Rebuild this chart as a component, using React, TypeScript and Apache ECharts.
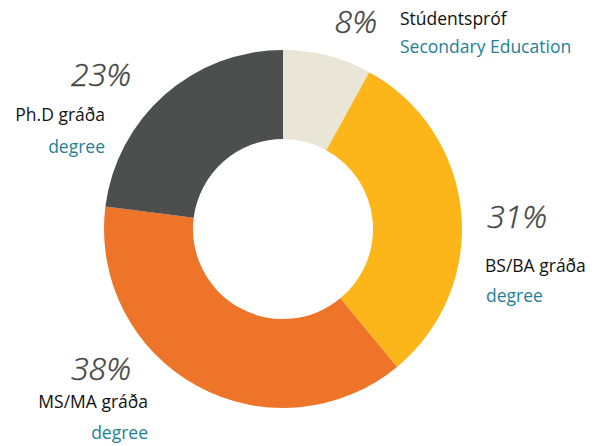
import React, { useEffect, useRef } from "react";
import * as echarts from "echarts";

const categories = ["Stúdentspróf", "BS/BA gráða", "MS/MA gráða", "Ph.D gráða"];
const subLabels = ["Secondary Education", "degree", "degree", "degree"];
const values = [8, 31, 38, 23];
const colors = ["#E9E6D8", "#FDB619", "#EE7429", "#4D4F4E"];

const FONT = "'Open Sans', 'Noto Sans', sans-serif";

export default function App() {
  const ref = useRef<HTMLDivElement>(null);
  useEffect(() => {
    if (!ref.current) return;
    const chart = echarts.init(ref.current, null, { renderer: "svg" });
    const total = values.reduce((a, b) => a + b, 0);
    const pct = values.map((v) => Math.round((v / total) * 100) + "%");

    const layout: any[] = [
      { p: [377, 20, "right"], n: [400, 18, "left"], s: [400, 46, "left"] },
      { p: [487, 215, "left"], n: [485, 265, "left"], s: [486, 295, "left"] },
      { p: [131, 367, "right"], n: [148, 401, "right"], s: [148, 432, "right"] },
      { p: [131, 73, "right"], n: [105, 114, "right"], s: [105, 146, "right"] },
    ];

    const graphic: any[] = [];
    categories.forEach((c, i) => {
      const l = layout[i];
      graphic.push({
        type: "text",
        x: l.p[0],
        y: l.p[1],
        style: {
          text: pct[i],
          font: `italic 300 32px ${FONT}`,
          fill: "#444444",
          stroke: "#444444",
          lineWidth: 0.4,
          textAlign: l.p[2],
          textVerticalAlign: "middle",
        },
      });
      graphic.push({
        type: "text",
        x: l.n[0],
        y: l.n[1],
        style: {
          text: c,
          font: `17.5px ${FONT}`,
          fill: "#111111",
          textAlign: l.n[2],
          textVerticalAlign: "middle",
        },
      });
      graphic.push({
        type: "text",
        x: l.s[0],
        y: l.s[1],
        style: {
          text: subLabels[i],
          font: `17.5px ${FONT}`,
          fill: "#1F7F96",
          textAlign: l.s[2],
          textVerticalAlign: "middle",
        },
      });
    });

    chart.setOption({
      animation: false,
      backgroundColor: "#ffffff",
      graphic,
      series: [
        {
          type: "pie",
          center: [283, 229],
          radius: [90, 179],
          startAngle: 90,
          clockwise: true,
          silent: true,
          label: { show: false },
          labelLine: { show: false },
          itemStyle: { borderWidth: 0 },
          data: categories.map((c, i) => ({
            name: c,
            value: values[i],
            itemStyle: { color: colors[i] },
          })),
        },
      ],
    });
    return () => chart.dispose();
  }, []);
  return (
    <div
      ref={ref}
      style={{ position: "fixed", left: 0, top: 0, width: 607, height: 446 }}
    />
  );
}
